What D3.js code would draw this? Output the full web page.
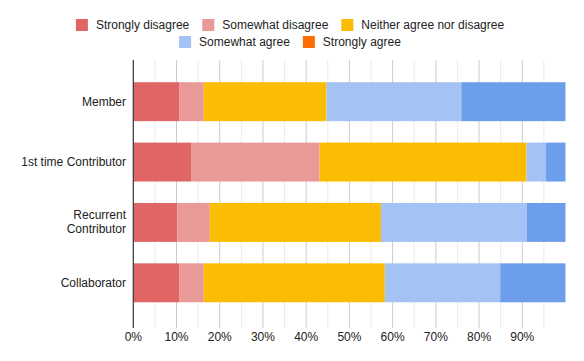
<!DOCTYPE html>
<html lang="en">
<head>
    <meta charset="UTF-8">
    <title>Agreement by role</title>
    <script src="https://d3js.org/d3.v7.min.js"></script>
    <style>
        body { margin: 0; background: #fff; }
        text { font-family: "Liberation Sans", Arial, sans-serif; }
    </style>
</head>
<body>
<div id="chart"></div>
<script>
    // data (percent of each row)
    const roles = ["Member", "1st time Contributor", "Recurrent Contributor", "Collaborator"];
    const roleLines = [["Member"], ["1st time Contributor"], ["Recurrent", "Contributor"], ["Collaborator"]];
    const answers = ["Strongly disagree", "Somewhat disagree", "Neither agree nor disagree", "Somewhat agree", "Strongly agree"];
    const stronglyDisagree = [10.6, 13.5, 10.2, 10.6];
    const somewhatDisagree = [5.7, 29.6, 7.5, 5.7];
    const neither = [28.4, 47.9, 39.6, 41.9];
    const somewhatAgree = [31.2, 4.5, 33.7, 26.7];
    const stronglyAgree = [24.1, 4.5, 9.0, 15.1];
    const xTicks = [0, 10, 20, 30, 40, 50, 60, 70, 80, 90];

    const barColors = ["#e06666", "#ea9999", "#fbbc04", "#a4c2f4", "#6d9eeb"];
    // legend shows a different swatch for the last item, like the original
    const legendColors = ["#e06666", "#ea9999", "#fbbc04", "#a4c2f4", "#ff6d01"];

    const width = 584, height = 361;
    const svg = d3.select("#chart").append("svg")
        .attr("width", width)
        .attr("height", height);

    const plot = {left: 133.3, right: 565.5, top: 60, bottom: 328};

    const x = d3.scaleLinear().domain([0, 100]).range([plot.left, plot.right]);
    const y = d3.scaleBand().domain(roles).range([71.5, 313])
        .paddingInner(0.355).paddingOuter(0.1775);

    // gridlines: major every 10, minor at the 5s
    const gridVals = d3.range(5, 100, 5);
    svg.append("g").selectAll("line")
        .data(gridVals)
        .join("line")
        .attr("x1", d => x(d)).attr("x2", d => x(d))
        .attr("y1", plot.top).attr("y2", plot.bottom)
        .attr("stroke", d => d % 10 === 0 ? "#cccccc" : "#ebebeb")
        .attr("stroke-width", 1);

    // stacked bars
    const rows = roles.map((r, i) => {
        const o = {role: r};
        o[answers[0]] = stronglyDisagree[i];
        o[answers[1]] = somewhatDisagree[i];
        o[answers[2]] = neither[i];
        o[answers[3]] = somewhatAgree[i];
        o[answers[4]] = stronglyAgree[i];
        return o;
    });
    const stack = d3.stack().keys(answers).offset(d3.stackOffsetExpand);
    const series = stack(rows);

    svg.append("g").selectAll("g")
        .data(series)
        .join("g")
        .attr("fill", (d, i) => barColors[i])
        .selectAll("rect")
        .data(d => d)
        .join("rect")
        .attr("x", d => x(d[0] * 100))
        .attr("width", d => x(d[1] * 100) - x(d[0] * 100))
        .attr("y", d => y(d.data.role))
        .attr("height", y.bandwidth());

    // left axis line
    svg.append("line")
        .attr("x1", plot.left).attr("x2", plot.left)
        .attr("y1", plot.top).attr("y2", plot.bottom)
        .attr("stroke", "#333333")
        .attr("stroke-width", 1.2);

    // x tick labels
    svg.append("g").selectAll("text")
        .data(xTicks)
        .join("text")
        .attr("x", d => x(d))
        .attr("y", 341)
        .attr("text-anchor", "middle")
        .attr("font-size", 12)
        .attr("fill", "#222")
        .text(d => d + "%");

    // y labels
    roles.forEach((r, i) => {
        const lines = roleLines[i];
        const cy = y(r) + y.bandwidth() / 2;
        const t = svg.append("text")
            .attr("text-anchor", "end")
            .attr("font-size", 12)
            .attr("fill", "#222");
        lines.forEach((ln, j) => {
            t.append("tspan")
                .attr("x", 126)
                .attr("y", cy + 4 + (j - (lines.length - 1) / 2) * 14)
                .text(ln);
        });
    });

    // legend, two rows centred
    const legendRows = [[0, 1, 2], [3, 4]];
    const legendY = [25, 42];
    const gap = 13;
    legendRows.forEach((idxs, r) => {
        const g = svg.append("g");
        let cx = 0;
        idxs.forEach(k => {
            g.append("rect")
                .attr("x", cx).attr("y", legendY[r] - 6)
                .attr("width", 12).attr("height", 12)
                .attr("fill", legendColors[k]);
            const t = g.append("text")
                .attr("x", cx + 20)
                .attr("y", legendY[r] + 4)
                .attr("font-size", 12)
                .attr("fill", "#222")
                .text(answers[k]);
            cx += 20 + t.node().getComputedTextLength() + gap;
        });
        const w = cx - gap;
        g.attr("transform", `translate(${(width - w) / 2 - 2},0)`);
    });
</script>
</body>
</html>
